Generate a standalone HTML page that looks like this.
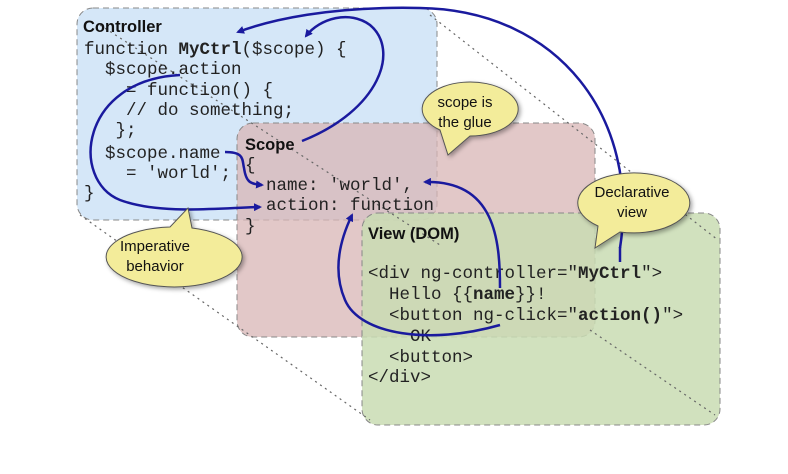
<!DOCTYPE html>
<html><head><meta charset="utf-8"><style>
body{margin:0;background:#fff}
svg text{font-family:"Liberation Mono",monospace;font-size:17.5px;fill:#222}
.t{font-family:"Liberation Sans",sans-serif;font-weight:bold;font-size:16.5px;fill:#111}
.s{font-family:"Liberation Sans",sans-serif;font-size:15px;fill:#111;text-anchor:middle}
</style></head><body>
<svg width="788" height="469" viewBox="0 0 788 469" xmlns="http://www.w3.org/2000/svg">
<defs><marker id="a" markerWidth="8" markerHeight="8" refX="6" refY="4" orient="auto" markerUnits="userSpaceOnUse"><path d="M0,0L8,4L0,8z" fill="#1a1a9e"/></marker>
<filter id="sh"><feDropShadow dx="2" dy="2" stdDeviation="2" flood-opacity="0.35"/></filter></defs>
<rect x="77" y="8" width="360" height="212" rx="16" fill="#d5e7f8" stroke="#888" stroke-dasharray="6,4"/>
<rect x="237" y="123" width="358" height="214" rx="16" fill="#d8b6b6" fill-opacity="0.75" stroke="#888" stroke-dasharray="6,4"/>
<rect x="362" y="213" width="358" height="212" rx="16" fill="#c9dcb3" fill-opacity="0.85" stroke="#888" stroke-dasharray="6,4"/>
<g stroke="#666" stroke-width="1.2" stroke-dasharray="2,4" fill="none">
<line x1="430" y1="15" x2="718" y2="240"/>
<line x1="80" y1="215" x2="370" y2="420"/>
<line x1="100" y1="25" x2="440" y2="245"/>
<line x1="590" y1="330" x2="715" y2="415"/>
</g>
<text x="83" y="32" class="t">Controller</text>
<text x="84" y="54">function <tspan font-weight="bold">MyCtrl</tspan>($scope) {</text>
<text x="84" y="74" xml:space="preserve">  $scope.action</text>
<text x="84" y="95" xml:space="preserve">    = function() {</text>
<text x="84" y="115" xml:space="preserve">    // do something;</text>
<text x="84" y="135" xml:space="preserve">   };</text>
<text x="84" y="158" xml:space="preserve">  $scope.name</text>
<text x="84" y="178" xml:space="preserve">    = 'world';</text>
<text x="84" y="198">}</text>
<text x="245" y="150" class="t">Scope</text>
<text x="245" y="170">{</text>
<text x="245" y="190" xml:space="preserve">  name: 'world',</text>
<text x="245" y="210" xml:space="preserve">  action: function</text>
<text x="245" y="231">}</text>
<text x="368" y="239" class="t">View (DOM)</text>
<text x="368" y="278">&lt;div ng-controller="<tspan font-weight="bold">MyCtrl</tspan>"&gt;</text>
<text x="368" y="299" xml:space="preserve">  Hello {{<tspan font-weight="bold">name</tspan>}}!</text>
<text x="368" y="320" xml:space="preserve">  &lt;button ng-click="<tspan font-weight="bold">action()</tspan>"&gt;</text>
<text x="368" y="341" xml:space="preserve">    OK</text>
<text x="368" y="362" xml:space="preserve">  &lt;button&gt;</text>
<text x="368" y="382">&lt;/div&gt;</text>
<g fill="none" stroke="#1a1a9e" stroke-width="2.5">
<path d="M620,248 C640,120 560,10 420,8 C330,6 270,20 238,32" marker-end="url(#a)"/>
<path d="M302,141 C380,110 400,50 370,25 C350,10 320,18 306,36" marker-end="url(#a)"/>
<path d="M180,75 C80,80 70,180 120,200 C160,215 220,208 260,207" marker-end="url(#a)"/>
<path d="M225,152 C245,152 242,160 244,168 C246,182 250,184 262,185" marker-end="url(#a)"/>
<path d="M500,325 C430,345 360,335 345,300 C332,270 340,240 352,215" marker-end="url(#a)"/>
<path d="M500,288 C500,240 495,180 425,182" marker-end="url(#a)"/>
<path d="M620,247 L620,262"/>
</g>
<g filter="url(#sh)" fill="#f3ec9a" stroke="#555" stroke-width="1">
<path d="M440,130 A48,27 0 1 1 470,136 L448,155 Z"/>
<path d="M598,226 A56,30 0 1 1 620,232 L595,248 Z"/>
<path d="M170,227 A68,30 0 1 0 192,228 L188,208 Z"/>
</g>
<text x="465" y="107" class="s">scope is</text>
<text x="465" y="127" class="s">the glue</text>
<text x="632" y="197" class="s">Declarative</text>
<text x="632" y="217" class="s">view</text>
<text x="155" y="251" class="s">Imperative</text>
<text x="155" y="271" class="s">behavior</text>
</svg>
</body></html>
